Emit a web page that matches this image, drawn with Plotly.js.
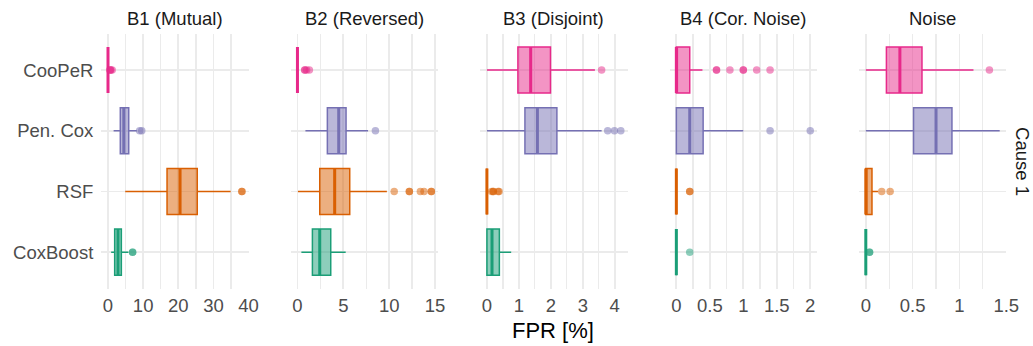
<!DOCTYPE html>
<html>
<head>
<meta charset="utf-8">
<script src="https://cdn.plot.ly/plotly-3.0.1.min.js"></script>
<style>html,body{margin:0;padding:0;background:#fff;}#chart{width:1033px;height:346px;}</style>
</head>
<body>
<div id="chart"></div>
<script>
// Categories (top to bottom) and facet labels
const methods = ['CooPeR', 'Pen. Cox', 'RSF', 'CoxBoost'];
const panels = ['B1 (Mutual)', 'B2 (Reversed)', 'B3 (Disjoint)', 'B4 (Cor. Noise)', 'Noise'];
const rowLabel = 'Cause 1';
const xTitle = 'FPR [%]';
const colors = ['#E7298A', '#7570B3', '#D95F02', '#1B9E77'];

// Box statistics per panel, one value per method (CooPeR, Pen. Cox, RSF, CoxBoost)
const b1Low  = [0, 1.6, 4.9, 0.9];
const b1Q1   = [0, 3.5, 16.8, 1.9];
const b1Med  = [0, 4.5, 20.5, 2.85];
const b1Q3   = [0, 5.9, 25.4, 3.8];
const b1High = [0, 8.2, 34.9, 5.8];
const b1Out  = [[0.5, 0.7, 0.8, 1.2], [9.0, 9.6], [38.1, 38.1], [7.0, 7.0]];

const b2Low  = [0, 0.87, 0.05, 0.43];
const b2Q1   = [0, 3.26, 2.43, 1.63];
const b2Med  = [0, 4.5, 4.06, 2.43];
const b2Q3   = [0, 5.3, 5.7, 3.63];
const b2High = [0, 7.7, 9.75, 5.26];
const b2Out  = [[0.8, 0.8, 1.0, 1.3], [8.5], [10.55, 12.2, 12.2, 13.4, 13.8, 14.6, 14.6], []];

const b3Low  = [0, 0, 0, 0];
const b3Q1   = [0.97, 1.19, 0, 0];
const b3Med  = [1.37, 1.58, 0, 0.16];
const b3Q3   = [1.99, 2.19, 0, 0.39];
const b3High = [3.38, 3.59, 0, 0.76];
const b3Out  = [[3.59], [3.78, 3.99, 4.19], [0.15, 0.2, 0.2, 0.35, 0.38], []];

const b4Low  = [0, 0, 0, 0];
const b4Q1   = [0, 0, 0, 0];
const b4Med  = [0, 0.2, 0, 0];
const b4Q3   = [0.2, 0.4, 0, 0];
const b4High = [0.39, 1.0, 0, 0];
const b4Out  = [[0.6, 0.6, 0.8, 1.0, 1.0, 1.2, 1.4], [1.4, 2.0], [0.2, 0.2], [0.2]];

const b5Low  = [0, 0, 0, 0];
const b5Q1   = [0.22, 0.51, 0, 0];
const b5Med  = [0.364, 0.75, 0, 0];
const b5Q3   = [0.60, 0.92, 0.066, 0];
const b5High = [1.15, 1.43, 0.13, 0];
const b5Out  = [[1.32], [], [0.17, 0.26], [0.04, 0.04]];

const stats = [
  [b1Low, b1Q1, b1Med, b1Q3, b1High, b1Out],
  [b2Low, b2Q1, b2Med, b2Q3, b2High, b2Out],
  [b3Low, b3Q1, b3Med, b3Q3, b3High, b3Out],
  [b4Low, b4Q1, b4Med, b4Q3, b4High, b4Out],
  [b5Low, b5Q1, b5Med, b5Q3, b5High, b5Out]
];
const majorTick = [10, 5, 1, 0.5, 0.5];

function rgba(hex, a) {
  const n = parseInt(hex.slice(1), 16);
  return `rgba(${(n >> 16) & 255},${(n >> 8) & 255},${n & 255},${a})`;
}

const W = 1033, H = 346;
const panelW = 147.3, panelStart = 101.3, panelStep = 189.45;
const plotTop = 33.6, plotBottom = 288.6;
const halfBox = 0.38;

const traces = [];
const layout = {
  width: W, height: H,
  margin: {l: 0, r: 0, t: 0, b: 0},
  paper_bgcolor: '#fff', plot_bgcolor: '#fff',
  showlegend: false,
  font: {family: 'Liberation Sans, Arial, sans-serif', color: '#4D4D4D', size: 18.5},
  annotations: [],
  boxmode: 'overlay'
};

stats.forEach((st, p) => {
  const [lo, q1, med, q3, hi, out] = st;
  const xa = p === 0 ? 'x' : 'x' + (p + 1);
  const ya = p === 0 ? 'y' : 'y' + (p + 1);
  // data extent for range (ggplot 5% expansion)
  let maxV = 0, minV = Infinity;
  for (let i = 0; i < methods.length; i++) {
    maxV = Math.max(maxV, hi[i], ...out[i]);
    minV = Math.min(minV, lo[i]);
  }
  const pad = (maxV - minV) * 0.05;
  const d0 = (panelStart + p * panelStep) / W;
  const d1 = (panelStart + p * panelStep + panelW) / W;
  layout['xaxis' + (p === 0 ? '' : p + 1)] = {
    domain: [d0, d1], anchor: ya,
    range: [minV - pad, maxV + pad],
    dtick: majorTick[p], tick0: 0,
    showgrid: true, gridcolor: '#EBEBEB', gridwidth: 1.7,
    minor: {dtick: majorTick[p] / 2, tick0: 0, showgrid: true, gridcolor: '#EBEBEB', gridwidth: 1.3},
    zeroline: false, showline: false, ticks: '',
    ticklabelstandoff: 4,
    tickfont: {size: 18.5, color: '#4D4D4D'},
    fixedrange: true
  };
  layout['yaxis' + (p === 0 ? '' : p + 1)] = {
    domain: [1 - plotBottom / H, 1 - plotTop / H], anchor: xa,
    range: [methods.length - 1 + 0.6, -0.6],
    tickvals: methods.map((m, i) => i), ticktext: methods,
    showticklabels: p === 0,
    showgrid: true, gridcolor: '#EBEBEB', gridwidth: 1.7,
    zeroline: false, showline: false, ticks: '',
    ticklabelstandoff: 7,
    tickfont: {size: 18.5, color: '#4D4D4D'},
    fixedrange: true
  };
  layout.annotations.push({
    text: panels[p], xref: 'paper', yref: 'paper',
    x: (d0 + d1) / 2, y: 1 - 18.5 / H, xanchor: 'center', yanchor: 'middle',
    showarrow: false, font: {size: 18.5, color: '#1A1A1A'}
  });

  methods.forEach((m, i) => {
    traces.push({
      type: 'box', orientation: 'h', xaxis: xa, yaxis: ya,
      y: [i], q1: [q1[i]], median: [med[i]], q3: [q3[i]],
      lowerfence: [lo[i]], upperfence: [hi[i]],
      width: 2 * halfBox, whiskerwidth: 0,
      boxpoints: false,
      line: {color: colors[i], width: 1.5},
      fillcolor: rgba(colors[i], 0.5),
      hoverinfo: 'skip'
    });
    // thicker median line (ggplot fatten)
    traces.push({
      type: 'scatter', mode: 'lines', xaxis: xa, yaxis: ya,
      x: [med[i], med[i]], y: [i - halfBox, i + halfBox],
      line: {color: colors[i], width: 3},
      hoverinfo: 'skip'
    });
    if (out[i].length) {
      traces.push({
        type: 'scatter', mode: 'markers', xaxis: xa, yaxis: ya,
        x: out[i], y: out[i].map(() => i),
        marker: {color: colors[i], size: 7.5, opacity: 0.5, line: {width: 0}},
        hoverinfo: 'skip'
      });
    }
  });
});

layout.annotations.push({
  text: rowLabel, xref: 'paper', yref: 'paper',
  x: 1023 / W, y: 1 - ((plotTop + plotBottom) / 2) / H,
  xanchor: 'center', yanchor: 'middle', textangle: 90,
  showarrow: false, font: {size: 18.5, color: '#1A1A1A'}
});
layout.annotations.push({
  text: xTitle, xref: 'paper', yref: 'paper',
  x: 553 / W, y: 1 - 330 / H, xanchor: 'center', yanchor: 'middle',
  showarrow: false, font: {size: 22, color: '#000'}
});

Plotly.newPlot('chart', traces, layout, {displayModeBar: false, staticPlot: true});
</script>
</body>
</html>
